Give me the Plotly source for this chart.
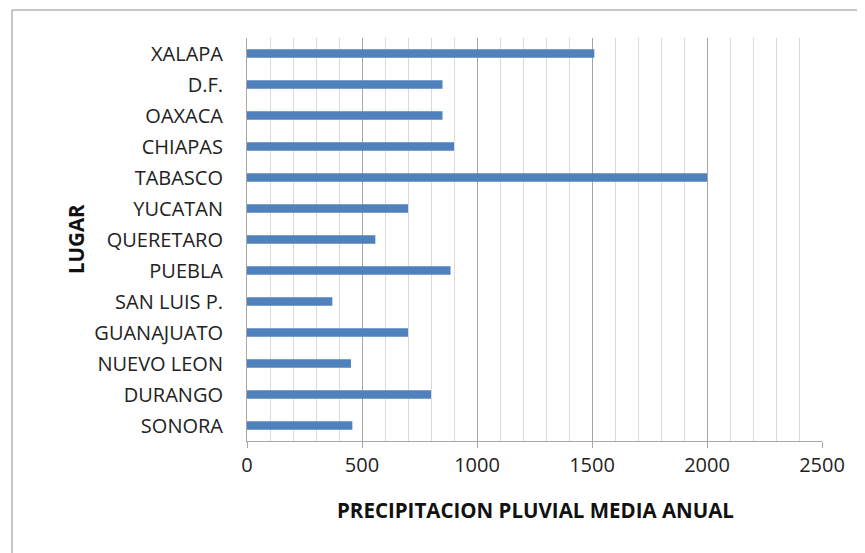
import plotly.graph_objects as go

lugares = ["XALAPA", "D.F.", "OAXACA", "CHIAPAS", "TABASCO", "YUCATAN", "QUERETARO",
           "PUEBLA", "SAN LUIS P.", "GUANAJUATO", "NUEVO LEON", "DURANGO", "SONORA"]
precipitacion = [1510, 850, 850, 900, 2000, 700, 558, 885, 371, 700, 452, 800, 458]
x_ticks = [0, 500, 1000, 1500, 2000, 2500]

W, H = 865, 553
L, R, T, B = 239, 51, 30, 120
pw = W - L - R
ph = H - T - B


def px(x):
    return (x - L) / pw


def py(y):
    return (H - B - y) / ph


fig = go.Figure(go.Bar(
    y=lugares, x=precipitacion, orientation="h",
    marker=dict(color="#4f81bd", line=dict(width=0)),
    width=0.27,
))

fig.update_layout(
    width=W, height=H,
    margin=dict(l=L, r=R, t=T, b=B),
    paper_bgcolor="white", plot_bgcolor="white",
    font=dict(family="Open Sans", size=20, color="#222"),
    showlegend=False,
    xaxis=dict(
        range=[0, 2500], tickvals=x_ticks, ticktext=[str(v) for v in x_ticks],
        showgrid=True, gridcolor="#a6a6a6", gridwidth=1,
        minor=dict(dtick=100, showgrid=True, gridcolor="#d9d9d9", gridwidth=1),
        showline=True, linecolor="#a6a6a6", linewidth=1,
        ticks="outside", ticklen=6, tickcolor="#a6a6a6",
        zeroline=False,
        tickfont=dict(size=20, color="#222"),
    ),
    yaxis=dict(
        categoryorder="array", categoryarray=lugares[::-1],
        showline=True, linecolor="#a6a6a6", linewidth=1,
        showgrid=False, ticks="", ticklabelstandoff=19,
        tickfont=dict(size=20, color="#222"),
    ),
    annotations=[
        dict(text="<b>LUGAR</b>", textangle=-90, x=px(52), y=py(231),
             xref="paper", yref="paper", showarrow=False,
             font=dict(size=20.5, color="#111")),
        dict(text="<b>PRECIPITACION PLUVIAL MEDIA ANUAL</b>", x=px(527), y=py(518),
             xref="paper", yref="paper", showarrow=False,
             font=dict(size=20.5, color="#111")),
    ],
)

# outer frame (left and top edges)
fig.add_shape(type="line", xref="paper", yref="paper",
              x0=px(4), x1=px(W + 20), y0=py(2), y1=py(2),
              line=dict(color="#8c8c8c", width=1))
fig.add_shape(type="line", xref="paper", yref="paper",
              x0=px(4), x1=px(4), y0=py(2), y1=py(H + 20),
              line=dict(color="#8c8c8c", width=1))

fig.write_html("out.html")
